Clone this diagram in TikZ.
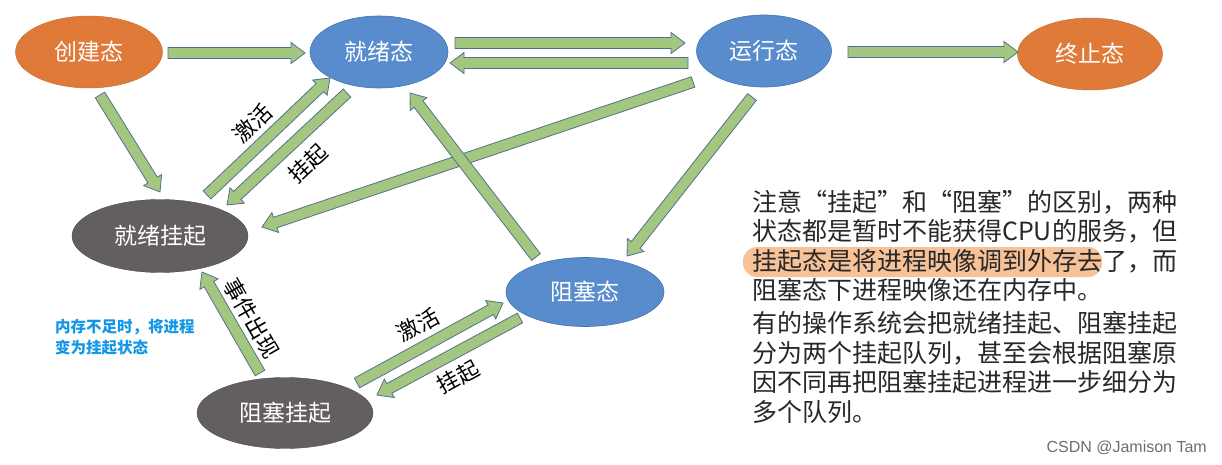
\documentclass[tikz,border=0pt]{standalone}
\usepackage{fontspec}
\usetikzlibrary{calc,shapes.geometric}
\newfontfamily\cjk{Noto Sans CJK SC}
\newfontfamily\wmfont{Liberation Sans}
\definecolor{stOrange}{RGB}{224,122,57}
\definecolor{stBlue}{RGB}{88,140,204}
\definecolor{stBlueB}{RGB}{70,115,175}
\definecolor{stGray}{RGB}{98,94,98}
\definecolor{arrFill}{RGB}{163,199,128}
\definecolor{arrLine}{RGB}{84,112,140}
\definecolor{noteBlue}{RGB}{18,150,230}
\definecolor{hiOrange}{RGB}{248,194,152}
\definecolor{txtDark}{RGB}{40,40,40}
\tikzset{
  state/.style={ellipse, inner sep=0pt, text=white, font=\cjk\fontsize{23}{23}\selectfont},
  orangestate/.style={state, fill=stOrange, draw=stOrange!85!black, line width=0.4pt},
  bluestate/.style={state, fill=stBlue, draw=stBlueB, line width=0.6pt},
  graystate/.style={state, fill=stGray, draw=stGray!80!black, line width=0.4pt},
  blockarr/.style={fill=arrFill, draw=arrLine, line width=0.8pt, line join=miter},
  arrlabel/.style={font=\cjk\fontsize{22}{22}\selectfont, text=black, inner sep=0pt},
}
\newcommand\blockarrow[2]{%
  \coordinate (ban) at ($(#2)!14pt!(#1)$);
  \draw[blockarr] ($(#1)!5.5pt!90:(#2)$) -- ($(ban)!5.5pt!-90:(#1)$) -- ($(ban)!10.5pt!-90:(#1)$) -- (#2) -- ($(ban)!10.5pt!90:(#1)$) -- ($(ban)!5.5pt!90:(#1)$) -- ($(#1)!5.5pt!-90:(#2)$) -- cycle;
}
\begin{document}
\begin{tikzpicture}[x=1pt,y=-1pt]
\useasboundingbox (0,0) rectangle (1222,465);
\fill[white] (0,0) rectangle (1222,465);

% states
\node[orangestate, minimum width=147pt, minimum height=72pt] (cj) at (89,52) {创建态};
\node[bluestate, minimum width=138pt, minimum height=72pt] (jx) at (379,52) {就绪态};
\node[bluestate, minimum width=135pt, minimum height=72pt] (yx) at (764,51) {运行态};
\node[orangestate, minimum width=145pt, minimum height=72pt] (zz) at (1090,54) {终止态};
\node[graystate, minimum width=176pt, minimum height=73pt] (jxgq) at (160,236) {就绪挂起};
\node[bluestate, minimum width=158pt, minimum height=69pt] (zs) at (585,292) {阻塞态};
\node[graystate, minimum width=176pt, minimum height=71pt] (zsgq) at (285,413) {阻塞挂起};

% arrow end points
\coordinate (a1s) at (168,53);  \coordinate (a1e) at (305,53);
\coordinate (a2s) at (100,95);  \coordinate (a2e) at (160,192);
\coordinate (a3s) at (207,195); \coordinate (a3e) at (330,78);
\coordinate (a4s) at (347,93);  \coordinate (a4e) at (227,205);
\coordinate (a5s) at (693,82);  \coordinate (a5e) at (262,227);
\coordinate (a6s) at (536,257); \coordinate (a6e) at (410,93);
\coordinate (a7s) at (752,97);  \coordinate (a7e) at (627,256);
\coordinate (a8s) at (455,43);  \coordinate (a8e) at (685,43);
\coordinate (a9s) at (688,63);  \coordinate (a9e) at (450,63);
\coordinate (a10s) at (848,52); \coordinate (a10e) at (1018,52);
\coordinate (a11s) at (260,373); \coordinate (a11e) at (202,272);
\coordinate (a12s) at (357,383); \coordinate (a12e) at (503,303);
\coordinate (a13s) at (520,318); \coordinate (a13e) at (377,395);

\blockarrow{a1s}{a1e}
\blockarrow{a2s}{a2e}
\blockarrow{a3s}{a3e}
\blockarrow{a4s}{a4e}
\blockarrow{a5s}{a5e}
\blockarrow{a6s}{a6e}
\blockarrow{a7s}{a7e}
\blockarrow{a8s}{a8e}
\blockarrow{a9s}{a9e}
\blockarrow{a10s}{a10e}
\blockarrow{a11s}{a11e}
\blockarrow{a12s}{a12e}
\blockarrow{a13s}{a13e}

% arrow labels
\node[arrlabel, rotate=44] (l1) at (253,123) {激活};
\node[arrlabel, rotate=43] (l2) at (308,163) {挂起};
\node[arrlabel, rotate=-60] (l3) at (252,318) {事件出现};
\node[arrlabel, rotate=29] (l4) at (418,325) {激活};
\node[arrlabel, rotate=29] (l5) at (458,377) {挂起};

% blue note
\node[anchor=north west, inner sep=0pt, align=left, text=noteBlue,
      font=\cjk\bfseries\fontsize{15.5}{21}\selectfont] (note) at (55,319)
  {内存不足时，将进程\\变为挂起状态};

% highlight
\fill[hiOrange, rounded corners=14pt] (743,247) rectangle (1102,277);

% explanation text
\node[anchor=north west, inner sep=0pt, align=left, text=txtDark,
      font=\cjk\fontsize{25}{29.5}\selectfont] (expl) at (752,190)
  {注意“挂起”和“阻塞”的区别，两种\\
   状态都是暂时不能获得CPU的服务，但\\
   挂起态是将进程映像调到外存去了，而\\
   阻塞态下进程映像还在内存中。\\[3.5pt]
   有的操作系统会把就绪挂起、阻塞挂起\\
   分为两个挂起队列，甚至会根据阻塞原\\
   因不同再把阻塞挂起进程进一步细分为\\
   多个队列。};

% watermark
\node[anchor=east, inner sep=0pt, text={rgb,255:red,110;green,110;blue,110},
      font=\wmfont\fontsize{16}{16}\selectfont] (wm) at (1207,448) {CSDN @Jamison Tam};
\end{tikzpicture}
\end{document}
